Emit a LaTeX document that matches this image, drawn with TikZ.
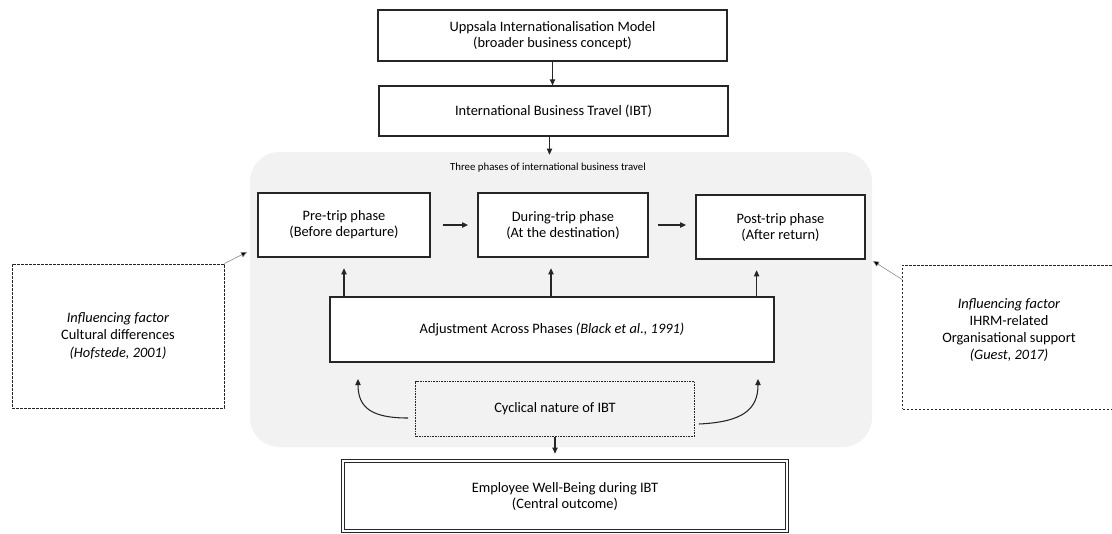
\documentclass[tikz,border=0pt]{standalone}
\usepackage{fontspec}
\setmainfont{Carlito}
\usetikzlibrary{arrows.meta,calc}
\definecolor{panelgray}{HTML}{F2F2F2}
\definecolor{linecol}{HTML}{262626}
\tikzset{
  box/.style={draw=linecol, line width=0.9pt, fill=white, align=center, inner sep=2pt,
    font=\fontsize{10.8}{12}\selectfont},
  facbox/.style={draw=linecol, line width=0.6pt, dash pattern=on 2pt off 1pt, fill=white,
    align=center, font=\fontsize{10.8}{12.8}\selectfont},
  cycbox/.style={draw=linecol, line width=0.6pt, dash pattern=on 0.6pt off 0.6pt, fill=panelgray,
    align=center, font=\fontsize{10.8}{12}\selectfont},
  wbbox/.style={draw=linecol, line width=1pt, double=white, double distance=1.3pt, fill=white,
    align=center, font=\fontsize{10.8}{12}\selectfont},
  arr/.style={draw=linecol, line width=0.8pt, -{Triangle[length=4.5pt,width=4pt]}},
  thinarr/.style={draw=gray, line width=0.4pt, -{Triangle[length=4.5pt,width=4pt,fill=black]}},
}
\begin{document}
\begin{tikzpicture}[x=0.75pt,y=-0.75pt]
\useasboundingbox (0,0) rectangle (1112,533);
% panel
\node[fill=panelgray, rounded corners=22pt, minimum width=466.5pt, minimum height=221.25pt,
  inner sep=0pt] (panel) at (561,299.5) {};
\node[font=\fontsize{8.1}{9}\selectfont] (title) at (548,168) {Three phases of international business travel};
% top boxes
\node[box, minimum width=261.75pt, minimum height=38.25pt] (up) at (552.5,35.5)
  {Uppsala Internationalisation Model\\(broader business concept)};
\node[box, minimum width=261.75pt, minimum height=37.5pt] (ibt) at (553.5,111)
  {International Business Travel (IBT)};
% phases
\node[box, minimum width=129pt, minimum height=48pt] (pre) at (344,225)
  {Pre-trip phase\\(Before departure)};
\node[box, minimum width=127.5pt, minimum height=48pt] (dur) at (563,225)
  {During-trip phase\\(At the destination)};
\node[box, minimum width=126.75pt, minimum height=48pt] (post) at (780.5,227)
  {Post-trip phase\\(After return)};
% adjustment
\node[box, minimum width=333pt, minimum height=48.75pt] (adj) at (552,329.5)
  {Adjustment Across Phases \textit{(Black et al., 1991)}};
% cyclical
\node[cycbox, minimum width=209.25pt, minimum height=41.25pt] (cyc) at (555,409)
  {Cyclical nature of IBT};
% well-being
\node[wbbox, minimum width=333pt, minimum height=52.5pt] (wb) at (565,496)
  {Employee Well-Being during IBT\\(Central outcome)};
% factors
\node[facbox, minimum width=159pt, minimum height=108pt] (lf) at (118,336)
  {\textit{Influencing factor}\\Cultural differences\\\textit{(Hofstede, 2001)}};
\node[facbox, minimum width=185pt, minimum height=108pt] (rf) at (1026,337) {};
\node[align=center, font=\fontsize{10.8}{12.8}\selectfont] (rft) at (1009,330)
  {\textit{Influencing factor}\\IHRM-related\\Organisational support\\\textit{(Guest, 2017)}};
% connectors
\draw[arr] (up.south) -- (up.south |- ibt.north);
\draw[arr] ($(ibt.south)+(-4,0)$) -- ($(ibt.south |- panel.north)+(-4,3)$);
\draw[arr, shorten <=9pt, shorten >=7pt] (pre.east) -- (pre.east -| dur.west);
\draw[arr, shorten <=7pt, shorten >=7pt] (dur.east) -- (dur.east -| post.west);
\coordinate (a1) at (pre.south |- adj.north);
\coordinate (a2) at ($(adj.north)+(-1,0)$);
\coordinate (a3) at ($(adj.north east)+(-18,0)$);
\draw[arr, shorten >=8pt] (a1) -- (pre.south);
\draw[arr, shorten >=8pt] (a2) -- (a2 |- dur.south);
\draw[arr, shorten >=8pt] (a3) -- (a3 |- post.south);
\coordinate (cl) at (358,379);
\coordinate (cr) at (758,379);
\draw[arr] ($(cyc.west)+(-7,9)$) .. controls (372,418) and (358,408) .. (cl);
\draw[arr] ($(cyc.east)+(4,15)$) .. controls (742,422) and (758,410) .. (cr);
\draw[arr, shorten >=5pt] (cyc.south) -- (cyc.south |- wb.north);
\coordinate (lt) at (247,252);
\coordinate (rt) at (873,261);
\draw[thinarr] (lf.north east) -- (lt);
\draw[thinarr] ($(rf.north west)+(0,15)$) -- (rt);
\end{tikzpicture}
\end{document}
